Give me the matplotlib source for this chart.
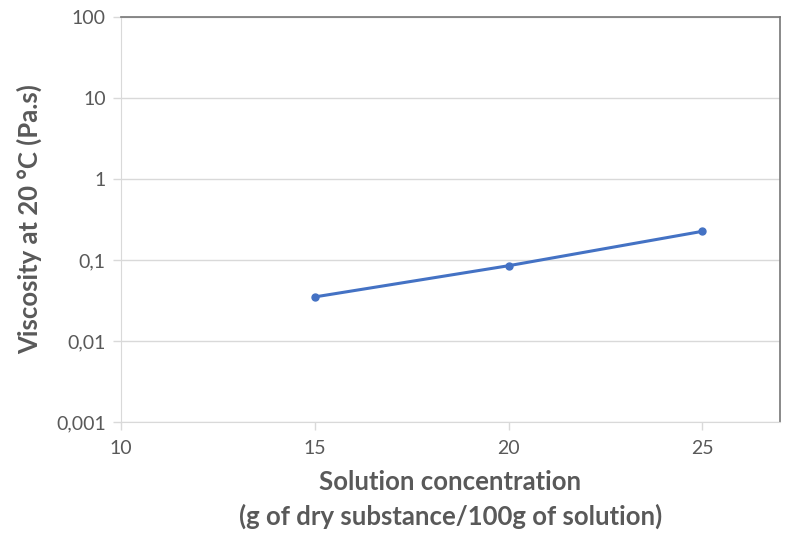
import matplotlib
matplotlib.use("Agg")
import matplotlib.pyplot as plt
from matplotlib.ticker import FixedLocator, FixedFormatter, NullLocator

# ── Data ───────────────────────────────────────────────────
concentration = [15, 20, 25]
viscosity = [0.035, 0.085, 0.226]

x_ticks = [10, 15, 20, 25]
y_ticks = [0.001, 0.01, 0.1, 1, 10, 100]
y_tick_labels = ["0,001", "0,01", "0,1", "1", "10", "100"]

TEXT = "#595959"
GRID = "#d9d9d9"
LINE = "#4472c4"

plt.rcParams["font.family"] = ["Lato", "DejaVu Sans"]

fig = plt.figure(figsize=(8, 5.44), dpi=100)
ax = fig.add_axes([0.15125, 0.2243, 0.82375, 0.74445])

ax.plot(concentration, viscosity, color=LINE, lw=2.2, marker="o", ms=5,
        zorder=3)

ax.set_yscale("log")
ax.set_ylim(0.001, 100)
ax.set_xlim(10, 27)
ax.yaxis.set_major_locator(FixedLocator(y_ticks))
ax.yaxis.set_major_formatter(FixedFormatter(y_tick_labels))
ax.yaxis.set_minor_locator(NullLocator())
ax.xaxis.set_major_locator(FixedLocator(x_ticks))
ax.set_xticklabels([str(v) for v in x_ticks])

ax.grid(axis="y", color=GRID, lw=1)
ax.set_axisbelow(True)

for side in ["left", "bottom"]:
    ax.spines[side].set_color(GRID)
for side in ["top", "right"]:
    ax.spines[side].set_color("#767676")
    ax.spines[side].set_linewidth(1.2)

ax.tick_params(axis="both", colors=GRID, labelcolor=TEXT, labelsize=14,
               length=6, width=1)
ax.tick_params(axis="y", pad=5)
ax.tick_params(axis="x", pad=7)

ax.set_ylabel("Viscosity at 20 °C (Pa.s)", fontsize=18.5, fontweight="bold",
              color=TEXT, labelpad=10)
ax.set_xlabel("Solution concentration\n(g of dry substance/100g of solution)",
              fontsize=18.5, fontweight="bold", color=TEXT, labelpad=9,
              linespacing=1.5)

plt.savefig("out.png", dpi=100)
